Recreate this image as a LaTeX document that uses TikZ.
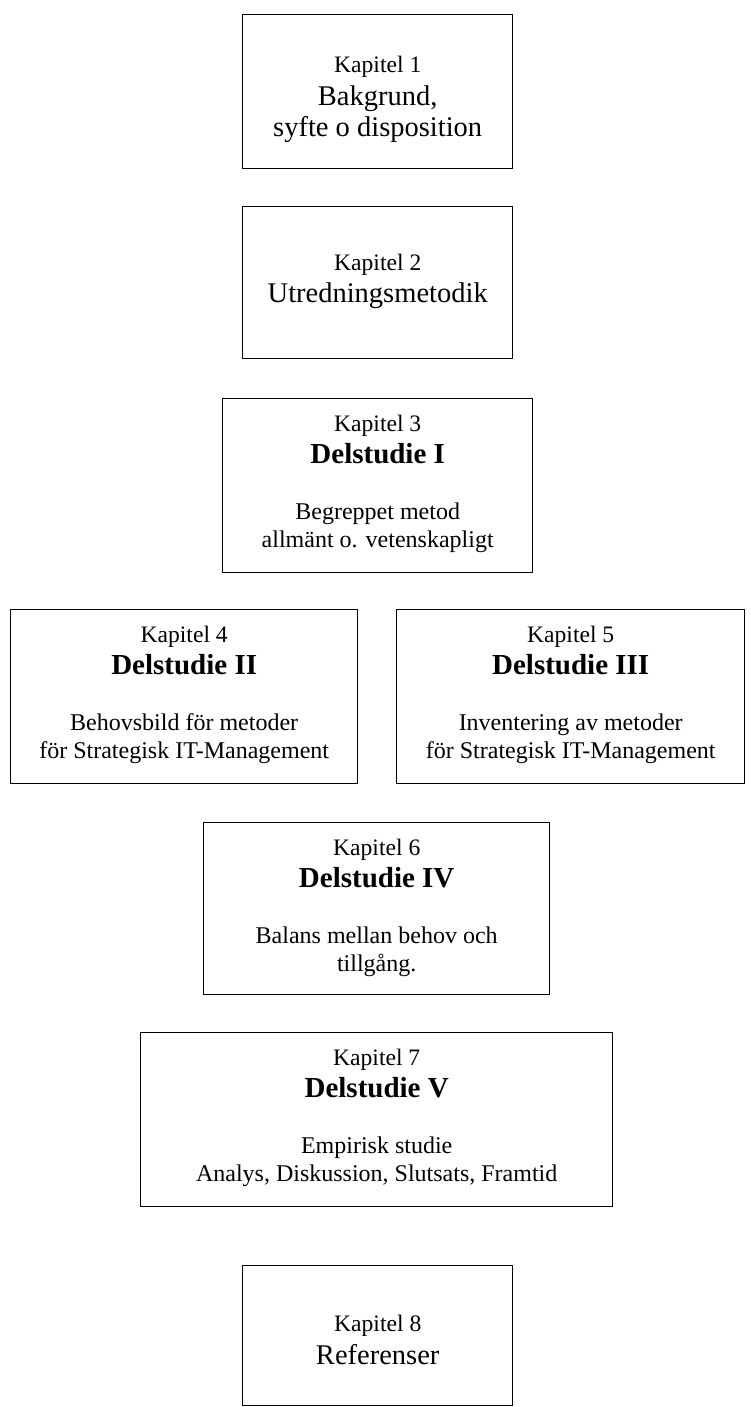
\documentclass[tikz,border=0pt]{standalone}
\usepackage{fontspec}
\setmainfont{Liberation Serif}
\newcommand{\kapfont}{\fontsize{23.6pt}{0pt}\selectfont}
\newcommand{\bigfont}{\fontsize{28.5pt}{0pt}\selectfont}
\newcommand{\delfont}{\bfseries\fontsize{29pt}{0pt}\selectfont}
\newcommand{\smfont}{\fontsize{24pt}{0pt}\selectfont}
\newcommand{\topstrut}[1]{\rule{0pt}{#1pt}}
\newcommand{\botstrut}[1]{\rule[-#1pt]{0pt}{#1pt}}
\begin{document}
\begin{tikzpicture}[x=1pt,y=-1pt,
  box/.style={draw,line width=1.4pt,align=center,inner sep=0pt,anchor=north west,
    font=\smfont,execute at begin node={\lineskiplimit=-1000pt\relax}}]
\useasboundingbox[fill=white] (0,0) rectangle (751,1407);
\node[box,minimum width=270pt,minimum height=154pt] (k1) at (242,14)
  {\topstrut{58}{\kapfont Kapitel 1}\\[33pt]{\bigfont Bakgrund,}\\[31pt]{\bigfont syfte o disposition}\botstrut{32}};
\node[box,minimum width=270pt,minimum height=152pt] (k2) at (242,206)
  {\topstrut{64}{\kapfont Kapitel 2}\\[32pt]{\bigfont Utredningsmetodik}\botstrut{56}};
\node[box,minimum width=310pt,minimum height=174pt] (k3) at (222,398)
  {\topstrut{32.5}{\kapfont Kapitel 3}\\[32.5pt]{\delfont Delstudie I}\\[55.5pt]{\smfont Begreppet metod}\\[28.5pt]{\smfont allmänt o. vetenskapligt}\botstrut{25}};
\node[box,minimum width=347pt,minimum height=174pt] (k4) at (10,609)
  {\topstrut{32.5}{\kapfont Kapitel 4}\\[32.5pt]{\delfont Delstudie II}\\[55.5pt]{\smfont Behovsbild för metoder}\\[28.5pt]{\smfont för Strategisk IT-Management}\botstrut{25}};
\node[box,minimum width=348pt,minimum height=174pt] (k5) at (396,609)
  {\topstrut{32.5}{\kapfont Kapitel 5}\\[32.5pt]{\delfont Delstudie III}\\[55.5pt]{\smfont Inventering av metoder}\\[28.5pt]{\smfont för Strategisk IT-Management}\botstrut{25}};
\node[box,minimum width=346pt,minimum height=172pt] (k6) at (203,822)
  {\topstrut{32.5}{\kapfont Kapitel 6}\\[32.5pt]{\delfont Delstudie IV}\\[55.5pt]{\smfont Balans mellan behov och}\\[28.5pt]{\smfont tillgång.}\botstrut{23}};
\node[box,minimum width=472pt,minimum height=174pt] (k7) at (140,1032)
  {\topstrut{32.5}{\kapfont Kapitel 7}\\[32.5pt]{\delfont Delstudie V}\\[55.5pt]{\smfont Empirisk studie}\\[28.5pt]{\smfont Analys, Diskussion, Slutsats, Framtid}\botstrut{25}};
\node[box,minimum width=270pt,minimum height=140pt] (k8) at (242,1265)
  {\topstrut{66}{\kapfont Kapitel 8}\\[33pt]{\bigfont Referenser}\botstrut{41}};
\end{tikzpicture}
\end{document}
